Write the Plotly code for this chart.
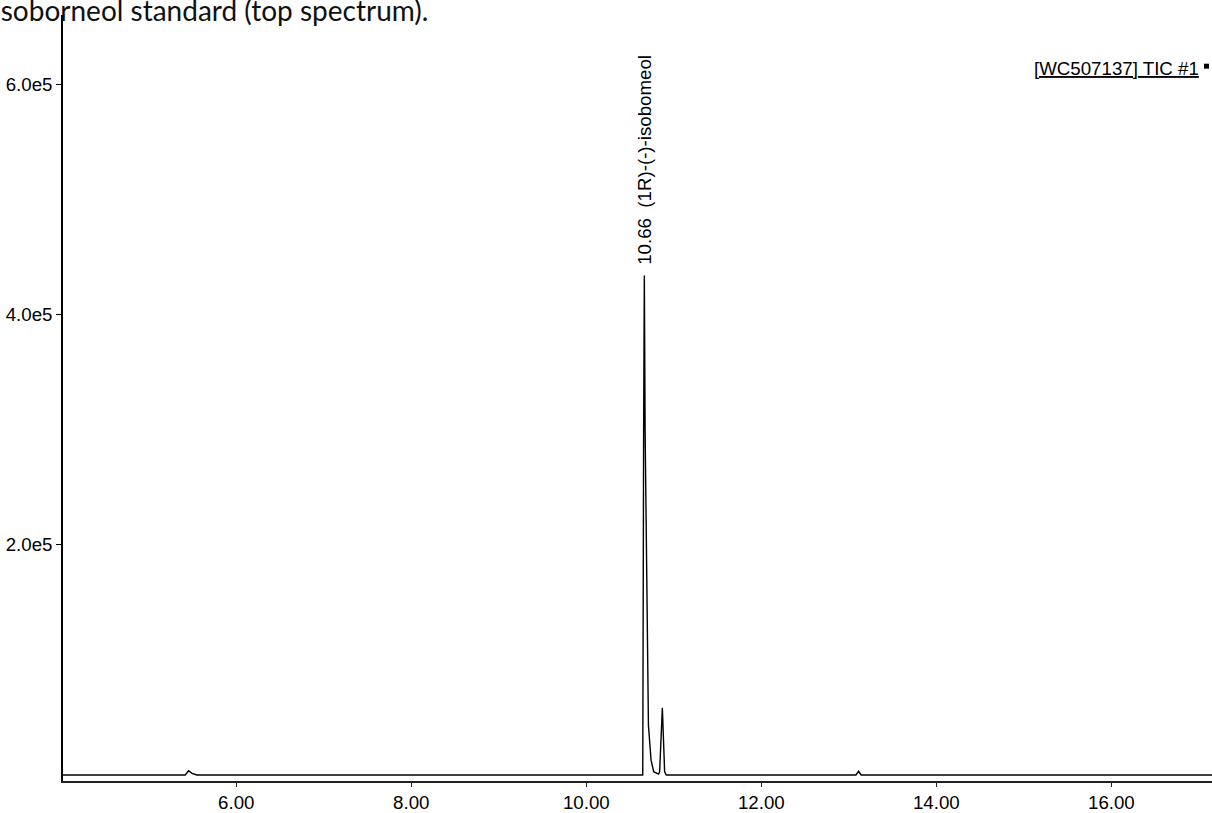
import plotly.graph_objects as go

# Retention time (min) and TIC intensity
rt_min = [4.02, 5.417, 5.455, 5.494, 5.551, 10.645, 10.655, 10.663, 10.672, 10.70, 10.71,
          10.74, 10.77, 10.826, 10.838, 10.869, 10.895, 10.914, 13.08, 13.112, 13.14, 17.15]
tic = [0, 0, 3700, 1450, 0, 0, 300000, 434000, 300000, 86300, 43200,
       12900, 2850, 860, 2800, 58400, 2800, 0, 0, 3200, 0, 0]

x_tickvals = [6, 8, 10, 12, 14, 16]
x_ticktext = ["6.00", "8.00", "10.00", "12.00", "14.00", "16.00"]
y_tickvals = [200000, 400000, 600000]
y_ticktext = ["2.0e5", "4.0e5", "6.0e5"]

peak_rt = 10.663
peak_val = 434000
peak_label = "10.66\u00a0 (1R)-(-)-isobomeol"
trace_name = "[WC507137] TIC #1"
caption = "isoborneol standard (top spectrum)."

FONT = "Arial, Liberation Sans, sans-serif"
FS = 18.7

fig = go.Figure()
fig.add_trace(go.Scatter(x=rt_min, y=tic, mode="lines",
                         line=dict(color="black", width=1.4),
                         name=trace_name, showlegend=False, hoverinfo="skip"))

fig.update_layout(
    width=1212, height=813,
    margin=dict(l=63, r=0, t=15, b=27, pad=0),
    paper_bgcolor="white", plot_bgcolor="white",
    font=dict(family=FONT, size=FS, color="black"),
    xaxis=dict(range=[4.02, 17.15], tickvals=x_tickvals, ticktext=x_ticktext,
               showline=True, linecolor="#222", linewidth=1.6, ticks="outside",
               ticklen=4, tickcolor="#222", showgrid=False, zeroline=False,
               tickfont=dict(family=FONT, size=FS, color="black")),
    yaxis=dict(range=[-5200, 660300], tickvals=y_tickvals, ticktext=y_ticktext,
               showline=True, linecolor="black", linewidth=1.6, ticks="outside",
               ticklen=5, tickcolor="black", showgrid=False, zeroline=False,
               tickfont=dict(family=FONT, size=FS, color="black")),
    showlegend=False,
)

fig.add_annotation(x=peak_rt, y=peak_val, xref="x", yref="y", text=peak_label,
                   textangle=-90, showarrow=False, xanchor="center", yanchor="bottom",
                   yshift=9, font=dict(family=FONT, size=FS, color="black"))

fig.add_annotation(x=(1201 - 63) / 1149, y=(786 - 69) / 771, xref="paper", yref="paper",
                   text=trace_name, showarrow=False, xanchor="right", yanchor="middle",
                   font=dict(family=FONT, size=FS, color="black", lineposition="under"))
fig.add_shape(type="rect", xref="paper", yref="paper",
              x0=(1204 - 63) / 1149, x1=(1209 - 63) / 1149,
              y0=(786 - 69) / 771, y1=(786 - 64) / 771,
              fillcolor="black", line=dict(width=0))

fig.add_annotation(x=-63 / 1149, y=1, xref="paper", yref="paper", text=caption,
                   showarrow=False, xanchor="left", yanchor="bottom", xshift=-8, yshift=-14,
                   font=dict(family="Lato, Carlito, sans-serif", size=28, color="#111"))

fig.write_html("out.html")
